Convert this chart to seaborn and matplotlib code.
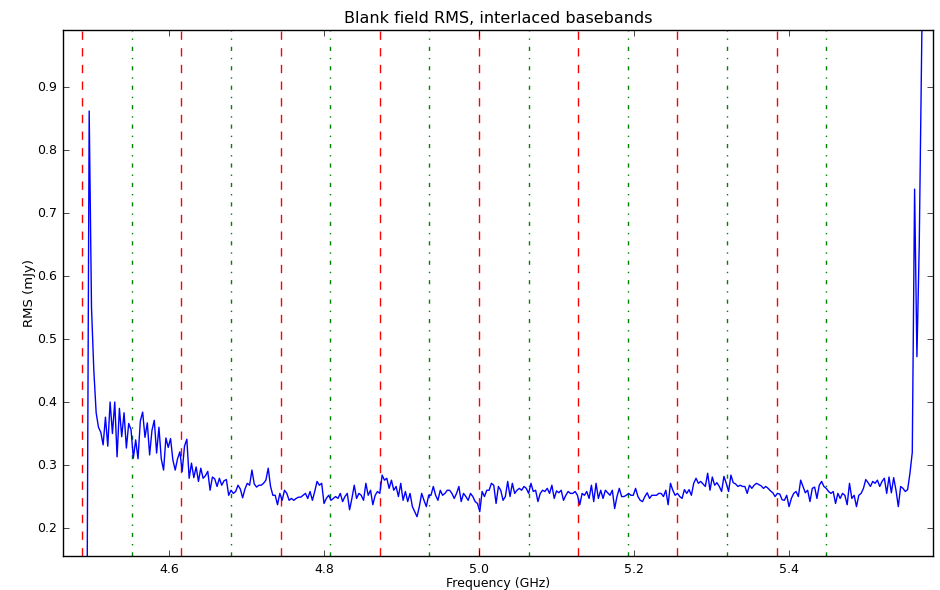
import numpy as np
import pandas as pd
import seaborn as sns
import matplotlib
matplotlib.use("Agg")
import matplotlib.pyplot as plt

# channel grid: first channel and width (GHz)
f_start = 4.494
f_step = 0.003

rms = [0.0,
       0.862, 0.55, 0.45, 0.383, 0.36, 0.352, 0.332, 0.376, 0.33, 0.40,
       0.35, 0.40, 0.313, 0.39, 0.345, 0.383, 0.327, 0.366, 0.356, 0.311,
       0.34, 0.31, 0.37, 0.384, 0.344, 0.367, 0.316, 0.355, 0.371, 0.319,
       0.36, 0.31, 0.292, 0.343, 0.328, 0.342, 0.308, 0.292, 0.31, 0.321,
       0.29, 0.33, 0.341, 0.279, 0.303, 0.28, 0.297, 0.274, 0.295, 0.279,
       0.283, 0.29, 0.26, 0.281, 0.278, 0.266, 0.279, 0.268, 0.275, 0.277,
       0.252, 0.26, 0.255, 0.258, 0.268, 0.262, 0.248, 0.262, 0.271, 0.268,
       0.292, 0.27, 0.265, 0.268, 0.268, 0.271, 0.276, 0.295, 0.266, 0.252,
       0.252, 0.237, 0.255, 0.244, 0.260, 0.255, 0.244, 0.247, 0.244, 0.247,
       0.249, 0.249, 0.252, 0.255, 0.247, 0.258, 0.244, 0.258, 0.274, 0.268,
       0.271, 0.239, 0.247, 0.252, 0.244, 0.247, 0.250, 0.247, 0.255, 0.242,
       0.250, 0.255, 0.229, 0.247, 0.268, 0.247, 0.255, 0.252, 0.244, 0.271,
       0.252, 0.260, 0.237, 0.252, 0.258, 0.255, 0.284, 0.276, 0.279, 0.263,
       0.276, 0.260, 0.266, 0.250, 0.271, 0.244, 0.258, 0.242, 0.255, 0.234,
       0.226, 0.218, 0.234, 0.255, 0.244, 0.234, 0.252, 0.252, 0.266,
       0.252, 0.244, 0.260, 0.252, 0.255, 0.260, 0.260, 0.255, 0.247, 0.255,
       0.266, 0.242, 0.255, 0.250, 0.244, 0.255, 0.250, 0.242, 0.239, 0.226,
       0.258, 0.250, 0.260, 0.260, 0.271, 0.268, 0.239, 0.266, 0.260, 0.244,
       0.250, 0.274, 0.250, 0.271, 0.255, 0.260, 0.263, 0.260, 0.266, 0.263,
       0.255, 0.271, 0.258, 0.260, 0.242, 0.255, 0.260, 0.258, 0.263, 0.255,
       0.268, 0.247, 0.259, 0.256, 0.260, 0.244, 0.252, 0.258, 0.255, 0.255,
       0.258, 0.252, 0.237, 0.255, 0.252, 0.258, 0.247, 0.268, 0.242, 0.271,
       0.247, 0.260, 0.247, 0.260, 0.256,
       0.252, 0.260, 0.231, 0.250, 0.263, 0.250, 0.250, 0.252, 0.255, 0.252,
       0.252, 0.263, 0.250, 0.244, 0.242, 0.250, 0.256, 0.247, 0.252, 0.252,
       0.252, 0.255, 0.255, 0.250, 0.260, 0.237, 0.271, 0.260, 0.252, 0.255,
       0.250, 0.247, 0.261, 0.255, 0.261, 0.252, 0.271, 0.279, 0.271, 0.274,
       0.270, 0.266, 0.287, 0.260, 0.281, 0.268, 0.272, 0.266, 0.258, 0.282,
       0.271, 0.258, 0.284, 0.272, 0.270, 0.266, 0.268, 0.266, 0.266, 0.255,
       0.268, 0.263, 0.268, 0.271, 0.269, 0.267, 0.263, 0.266, 0.263, 0.259,
       0.256, 0.250, 0.255, 0.254, 0.245,
       0.244, 0.252, 0.234, 0.247, 0.255, 0.258, 0.250, 0.276, 0.266, 0.256,
       0.260, 0.242, 0.263, 0.265, 0.247, 0.268, 0.274, 0.266, 0.263, 0.258,
       0.255, 0.258, 0.239, 0.255, 0.247, 0.255, 0.252, 0.237, 0.271, 0.247,
       0.252, 0.234, 0.252, 0.255, 0.263, 0.277, 0.272, 0.266, 0.274, 0.271,
       0.276, 0.266, 0.274, 0.279, 0.255, 0.281, 0.256, 0.280, 0.260, 0.234,
       0.266, 0.263, 0.258, 0.261, 0.287, 0.32, 0.738, 0.472, 0.65, 0.95, 1.25]

# baseband edges (red) and centres (green)
red_lines = [4.488, 4.616, 4.744, 4.872, 5.000, 5.128, 5.256, 5.384]
green_lines = [4.552, 4.680, 4.808, 4.936, 5.064, 5.192, 5.320, 5.448]

x_ticks = [4.6, 4.8, 5.0, 5.2, 5.4]
y_ticks = [0.2, 0.3, 0.4, 0.5, 0.6, 0.7, 0.8, 0.9]

freq = np.round(f_start + f_step * np.arange(len(rms)), 4)
df = pd.DataFrame({'freq': freq, 'rms': rms})

plt.style.use('classic')
plt.rcParams['figure.facecolor'] = 'white'
plt.rcParams['savefig.facecolor'] = 'white'
plt.rcParams['font.family'] = ['DejaVu Sans']

fig = plt.figure(figsize=(9.4, 5.9), dpi=100)
ax = fig.add_axes([0.067, 0.0576, 0.9256, 0.8915])

for f in red_lines:
    ax.axvline(f, color='r', linestyle='--', linewidth=1)
for f in green_lines:
    ax.axvline(f, color='g', linestyle='-.', linewidth=1)

sns.lineplot(data=df, x='freq', y='rms', ax=ax, color='b', linewidth=1,
             estimator=None, sort=False)

ax.set_xlim(4.4632, 5.5858)
ax.set_ylim(0.1556, 0.9905)
ax.set_xticks(x_ticks)
ax.set_yticks(y_ticks)
ax.set_xticklabels([f'{v:.1f}' for v in x_ticks], fontsize=9)
ax.set_yticklabels([f'{v:.1f}' for v in y_ticks], fontsize=9)
ax.tick_params(axis='x', direction='in', top=True, length=4, pad=5)
ax.tick_params(axis='y', direction='in', right=True, length=4, pad=4)
ax.set_xlabel('Frequency (GHz)', fontsize=9, labelpad=1)
ax.set_ylabel('RMS (mJy)', fontsize=9.5, labelpad=1)
ax.set_title('Blank field RMS, interlaced basebands', fontsize=11.5, pad=5)

fig.savefig('out.png', dpi=100)
